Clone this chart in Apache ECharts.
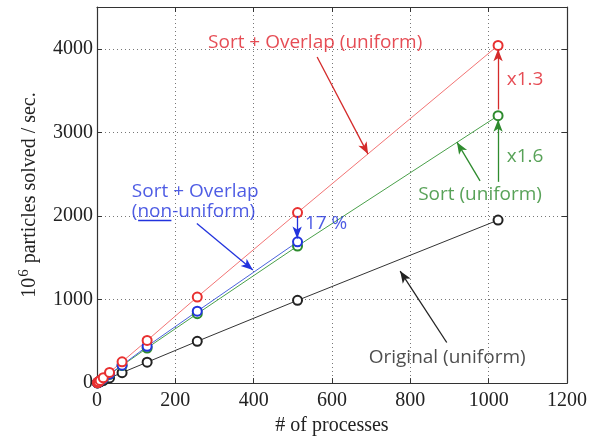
<!DOCTYPE html>
<html><head><meta charset="utf-8">
<script src="https://cdn.jsdelivr.net/npm/echarts@6/dist/echarts.min.js"></script>
<style>html,body{margin:0;padding:0;background:#fff}#c{width:591px;height:441px}</style>
</head><body><div id="c"></div>
<script>
var procs = [1, 2, 4, 8, 16, 32, 64, 128, 256, 512, 1024];
var sortOverlapUniform = [4, 8, 16, 32, 64, 128, 255, 510, 1030, 2040, 4040];
var sortUniform = [3.2, 6.4, 13, 26, 52, 104, 210, 420, 830, 1640, 3200];
var sortOverlapNonUniform = [3.3, 6.7, 13, 27, 54, 108, 215, 440, 860, 1690];
var originalUniform = [1.9, 3.9, 7.8, 15.5, 31, 62, 125, 250, 500, 990, 1950];
var xTicks = [0, 200, 400, 600, 800, 1000, 1200];
var yTicks = [0, 1000, 2000, 3000, 4000];

// annotation texts (data coordinates) and arrows
var labels = [
  {text: 'Sort + Overlap (uniform)', at: [557, 4069], color: '#e0202a', align: 'center'},
  {text: 'x1.3', at: [1093, 3630], color: '#e0202a', align: 'center'},
  {text: 'x1.6', at: [1093, 2716], color: '#2e8b2e', align: 'center'},
  {text: 'Sort (uniform)', at: [978, 2254], color: '#2e8b2e', align: 'center'},
  {text: 'Sort + Overlap', at: [89, 2289], color: '#2233dd', align: 'left'},
  {text: '(non-uniform)', at: [89, 2052], color: '#2233dd', align: 'left'},
  {text: '17 %', at: [585, 1910], color: '#2233dd', align: 'center'},
  {text: 'Original (uniform)', at: [894, 308], color: '#222222', align: 'center'}
];
var arrows = [
  {from: [562, 3902], to: [692, 2740], color: '#d42a2a'},
  {from: [1024, 3274], to: [1024, 3995], color: '#d42a2a'},
  {from: [1024, 2408], to: [1024, 3150], color: '#2e8b2e'},
  {from: [978, 2420], to: [919, 2883], color: '#2e8b2e'},
  {from: [255, 1910], to: [398, 1352], color: '#2233dd'},
  {from: [511, 2000], to: [511, 1730], color: '#2233dd'},
  {from: [893, 486], to: [774, 1340], color: '#222222'}
];
var underline = {from: [105, 1950], to: [190, 1950], color: '#2233dd'};

function pairs(vals) { return vals.map(function (v, i) { return [procs[i], v]; }); }

var chart = echarts.init(document.getElementById('c'), null, {renderer: 'canvas'});
var serif = 'Liberation Serif';
var sans = 'Open Sans';
function lineSeries(name, vals, color, lineColor) {
  return {
    name: name, type: 'line', data: pairs(vals),
    symbol: 'emptyCircle', symbolSize: 9, showSymbol: true,
    lineStyle: {color: lineColor, width: 1},
    itemStyle: {color: color, borderColor: color, borderWidth: 1},
    z: 3, animation: false
  };
}
var mlData = arrows.map(function (a) {
  return [{coord: a.from, symbol: 'none', lineStyle: {color: a.color, width: 1.3, type: 'solid'}},
          {coord: a.to, symbol: 'arrow', symbolSize: [7, 12]}];
});
mlData.push([{coord: underline.from, symbol: 'none', lineStyle: {color: underline.color, width: 1.3, type: 'solid'}},
             {coord: underline.to, symbol: 'none'}]);

var option = {
  backgroundColor: '#fff',
  animation: false,
  grid: {left: 97, right: 24, top: 7, bottom: 55, containLabel: false},
  xAxis: [{
    type: 'value', min: 0, max: 1200, interval: 200,
    name: '# of processes', nameLocation: 'middle', nameGap: 31,
    nameTextStyle: {fontFamily: serif, fontSize: 20, color: '#222'},
    axisLine: {show: true, lineStyle: {color: '#333', width: 1.2}},
    axisTick: {show: true, inside: true, length: 5, lineStyle: {color: '#333'}},
    axisLabel: {fontFamily: serif, fontSize: 20, color: '#222', margin: 8,
      formatter: function (v) { return xTicks.indexOf(v) >= 0 ? String(v) : ''; }},
    splitLine: {show: true, lineStyle: {color: '#777', type: [1, 3], width: 1}}
  }, {
    type: 'value', position: 'top', min: 0, max: 1200, interval: 200,
    axisLine: {show: true, onZero: false, lineStyle: {color: '#333', width: 1.2}},
    axisTick: {show: true, inside: true, length: 5, lineStyle: {color: '#333'}},
    axisLabel: {show: false}, splitLine: {show: false}
  }],
  yAxis: [{
    type: 'value', min: 0, max: 4500, interval: 1000,
    name: '{a|10}{sup|6}{a| particles solved / sec.}', nameLocation: 'middle', nameGap: 54,
    nameTextStyle: {fontFamily: serif, fontSize: 20, color: '#222',
      rich: {a: {fontFamily: serif, fontSize: 20, color: '#222', lineHeight: 26},
             sup: {fontFamily: serif, fontSize: 15, color: '#222', verticalAlign: 'top', lineHeight: 26, padding: [0, 1, 10, 1]}}},
    axisLine: {show: true, lineStyle: {color: '#333', width: 1.2}},
    axisTick: {show: true, inside: true, length: 5, lineStyle: {color: '#333'}},
    axisLabel: {fontFamily: serif, fontSize: 20, color: '#222', margin: 4,
      formatter: function (v) { return yTicks.indexOf(v) >= 0 ? String(v) : ''; }},
    splitLine: {show: true, lineStyle: {color: '#777', type: [1, 3], width: 1}}
  }, {
    type: 'value', position: 'right', min: 0, max: 4500, interval: 1000,
    axisLine: {show: true, onZero: false, lineStyle: {color: '#333', width: 1.2}},
    axisTick: {show: true, inside: true, length: 5, lineStyle: {color: '#333'}},
    axisLabel: {show: false}, splitLine: {show: false}
  }],
  series: [
    lineSeries('Original (uniform)', originalUniform, '#222', '#333'),
    lineSeries('Sort (uniform)', sortUniform, '#2e8b2e', '#4aa04a'),
    lineSeries('Sort + Overlap (non-uniform)', sortOverlapNonUniform, '#2233dd', '#4a62dd'),
    lineSeries('Sort + Overlap (uniform)', sortOverlapUniform, '#e83030', '#f27474'),
    {
      name: 'annotations', type: 'scatter', symbolSize: 0, silent: true, z: 10,
      data: labels.map(function (l) {
        return {value: l.at, label: {show: true, position: 'inside', formatter: l.text,
          color: l.color, fontFamily: sans, fontSize: 19, align: l.align, verticalAlign: 'middle'}};
      }),
      markLine: {silent: true, symbol: ['none', 'arrow'], label: {show: false}, animation: false, data: mlData}
    }
  ]
};
chart.setOption(option);
</script>
</body></html>
